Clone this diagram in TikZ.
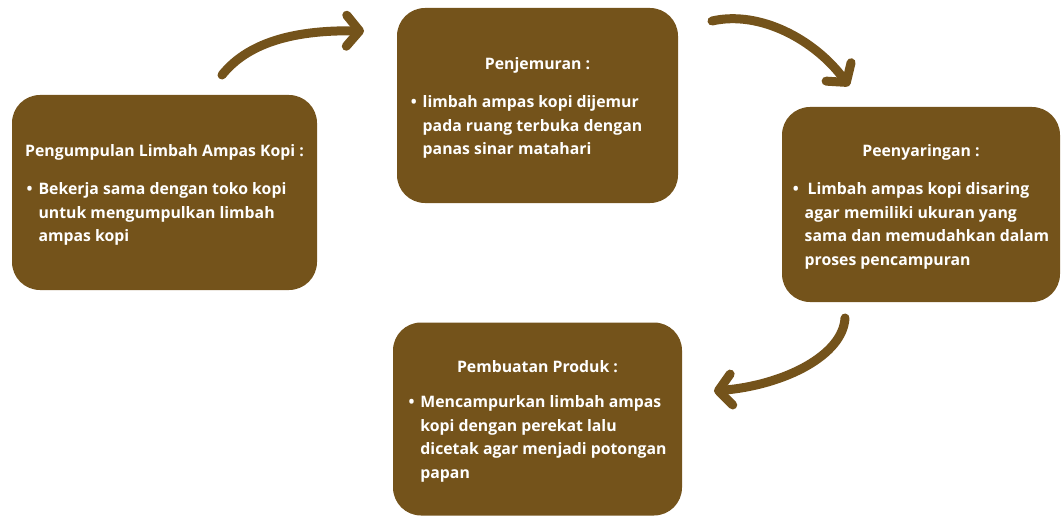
\documentclass[tikz,border=0pt]{standalone}
\usepackage{fontspec}
\setmainfont{Open Sans}[BoldFont={* Bold}]
\usetikzlibrary{arrows.meta,positioning}

\definecolor{kopi}{HTML}{74531B}

\newcommand{\butir}[1]{%
  \begin{tabular}{@{}l@{\hspace{6pt}}l@{}}\textbullet & #1\end{tabular}}
\newcommand{\judul}[1]{\rule{0pt}{20pt}#1\\[17pt]}

\begin{document}
\begin{tikzpicture}[
  x=1pt, y=-1pt,
  font=\fontsize{15.8}{23.5}\selectfont\bfseries,
  box/.style={rectangle, fill=kopi, rounded corners=28pt, text=white,
              align=center, inner sep=0pt},
  alur/.style={draw=kopi, line width=9pt, line cap=round,
               -{Straight Barb[length=13pt, width=31pt, line cap=round, line join=round]}},
]
\useasboundingbox (0,0) rectangle (1063,516);

% tahapan
\node[box, minimum width=305pt, minimum height=195pt] (kumpul) at (164.5,192.5)
  {\judul{Pengumpulan Limbah Ampas Kopi :}
   \butir{Bekerja sama dengan toko kopi\\ & untuk mengumpulkan limbah\\ & ampas kopi}\hspace*{16pt}};
\node[box, minimum width=281pt, minimum height=195pt] (jemur) at (537.5,105.5)
  {\judul{Penjemuran :}
   \butir{limbah ampas kopi dijemur\\ & pada ruang terbuka dengan\\ & panas sinar matahari}\hspace*{22pt}};
\node[box, minimum width=278pt, minimum height=195pt] (saring) at (921,204.5)
  {\judul{Peenyaringan :}
   \butir{\hspace{3pt}Limbah ampas kopi disaring\\ & agar memiliki ukuran yang\\ & sama dan memudahkan dalam\\ & proses pencampuran}};
\node[box, minimum width=289pt, minimum height=193pt] (produk) at (537.5,419)
  {\judul{Pembuatan Produk :}
   \butir{Mencampurkan limbah ampas\\ & kopi dengan perekat lalu\\ & dicetak agar menjadi potongan\\ & papan}};

% ujung panah
\coordinate (a1) at (222,75);   \coordinate (b1) at (364,31);
\coordinate (a2) at (712,21);   \coordinate (b2) at (849,86);
\coordinate (a3) at (845,318);  \coordinate (b3) at (714,391);

\draw[alur] (a1) .. controls (250,40) and (300,30) .. (b1);
\draw[alur] (a2) .. controls (760,10) and (815,40) .. (b2);
\draw[alur] (a3) .. controls (843,355) and (785,385) .. (b3);

\end{tikzpicture}
\end{document}
